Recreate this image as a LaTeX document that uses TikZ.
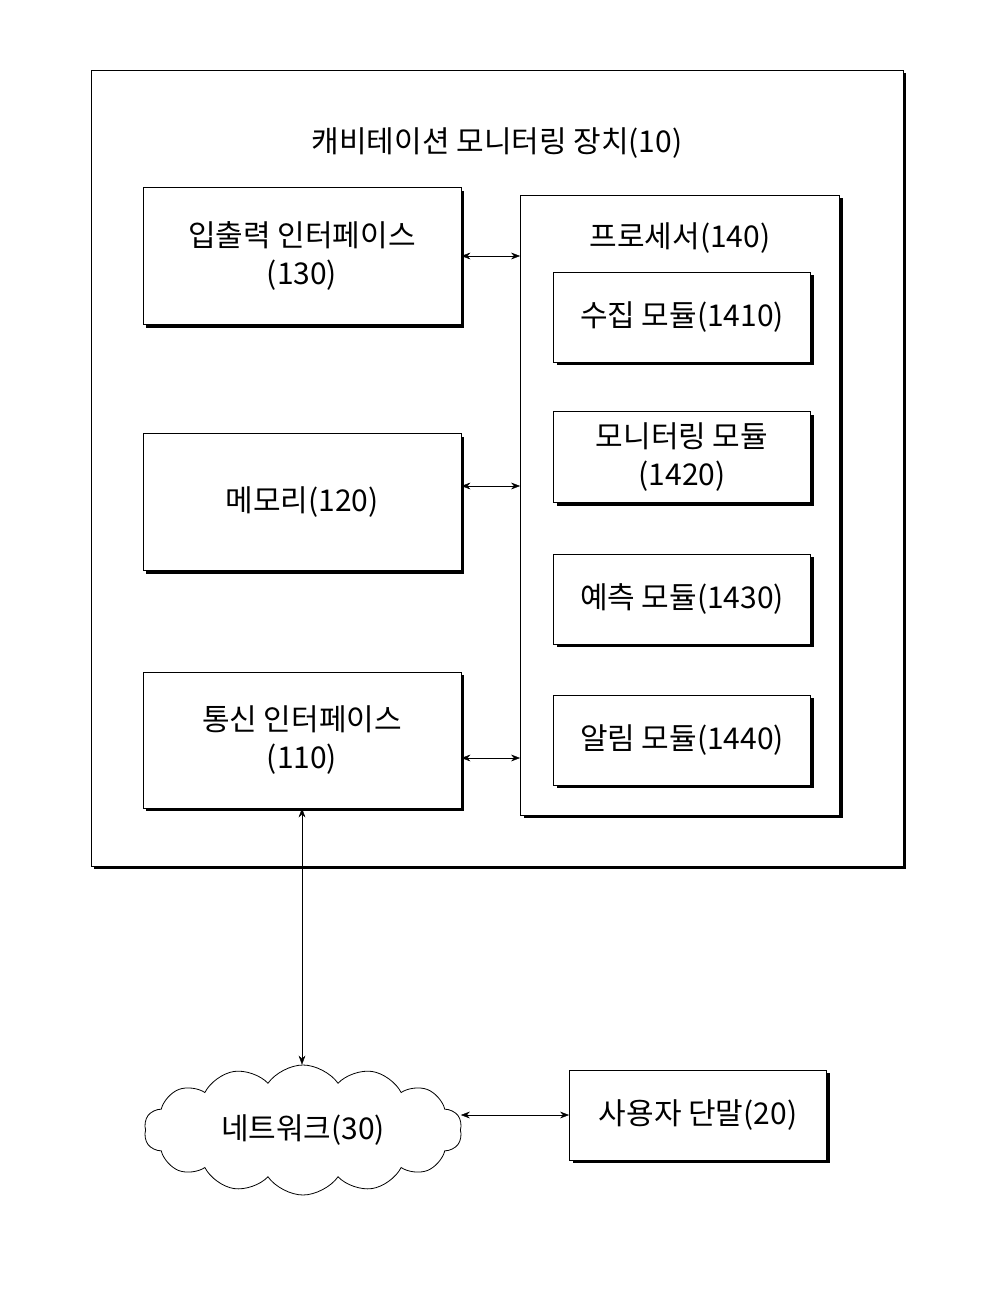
\documentclass[tikz,border=0pt]{standalone}
\usepackage{fontspec}
\setmainfont{Noto Sans CJK KR}
\usetikzlibrary{shapes.symbols,shadows,arrows.meta}
\begin{document}
\begin{tikzpicture}[x=1pt,y=-1pt,
    box/.style={draw,thick,fill=white,align=center,font=\fontsize{30}{38}\selectfont,
      drop shadow={shadow xshift=3pt,shadow yshift=-3pt,fill=black,opacity=1}},
    link/.style={thin,{Stealth[length=9pt]}-{Stealth[length=9pt]}}]
    \useasboundingbox (0,0) rectangle (992,1304);

    \node[box,minimum width=812,minimum height=796] (dev) at (497,468) {};
    \node[font=\fontsize{30}{38}\selectfont] (title) at (497,143) {캐비테이션 모니터링 장치(10)};

    \node[box,minimum width=318,minimum height=137] (io) at (302,256) {입출력 인터페이스\\(130)};
    \node[box,minimum width=318,minimum height=137] (mem) at (302,502) {메모리(120)};
    \node[box,minimum width=318,minimum height=136] (comm) at (302,740) {통신 인터페이스\\(110)};

    \node[box,minimum width=319,minimum height=620] (proc) at (680,505) {};
    \node[font=\fontsize{30}{38}\selectfont] (ptitle) at (680,238) {프로세서(140)};
    \node[box,minimum width=257,minimum height=90] (m1) at (682,317) {수집 모듈(1410)};
    \node[box,minimum width=257,minimum height=91] (m2) at (682,457) {모니터링 모듈\\(1420)};
    \node[box,minimum width=257,minimum height=90] (m3) at (682,599) {예측 모듈(1430)};
    \node[box,minimum width=257,minimum height=90] (m4) at (682,740) {알림 모듈(1440)};

    \node[cloud,draw,thick,cloud puffs=14,cloud puff arc=110,aspect=2.4,inner sep=0pt,
      minimum width=318,minimum height=130,font=\fontsize{30}{38}\selectfont] (net) at (303,1130) {네트워크(30)};
    \node[box,minimum width=257,minimum height=90] (user) at (698,1115) {사용자 단말(20)};

    \coordinate (memr) at ([yshift=16]mem.east);
    \coordinate (commr) at ([yshift=-18]comm.east);
    \draw[link] (io.east) -- (proc.west |- io.east);
    \draw[link] (memr) -- (proc.west |- memr);
    \draw[link] (commr) -- (proc.west |- commr);
    \draw[link] (comm.south) -- (net.north -| comm.south);
    \draw[link] (net.east |- user.west) -- (user.west);
\end{tikzpicture}
\end{document}
